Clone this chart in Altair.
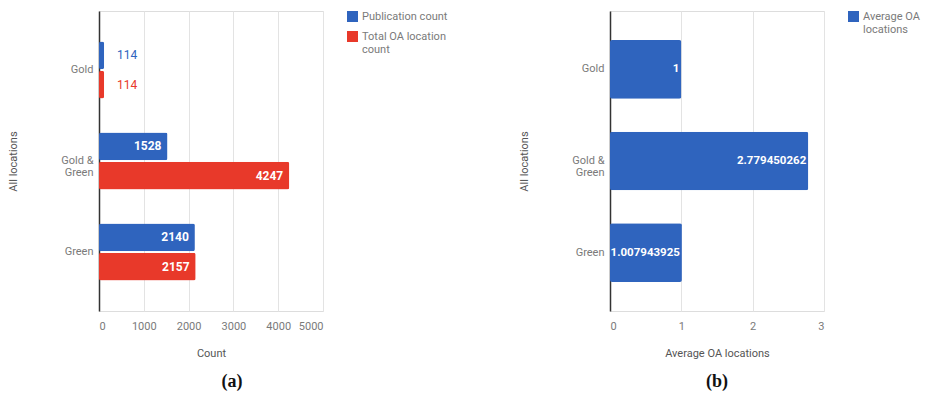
import altair as alt
import pandas as pd

# Categories and values
categories = ["Gold", "Gold & Green", "Green"]
series_names = ["Publication count", "Total OA location count"]
publication_count = [114, 1528, 2140]
total_oa_location_count = [114, 4247, 2157]
average_series = ["Average OA locations"]
average_oa_locations = [1, 2.779450262, 1.007943925]
count_ticks = [0, 1000, 2000, 3000, 4000, 5000]
average_ticks = [0, 1, 2, 3]

BLUE = "#2f64be"
RED = "#e8392a"
LABEL_GRAY = "#7a7a7a"
TITLE_GRAY = "#555555"
GRID = "#e3e3e3"

counts = pd.DataFrame({
    "location": categories * 2,
    "series": [series_names[0]] * 3 + [series_names[1]] * 3,
    "value": publication_count + total_oa_location_count,
})
counts["label"] = counts["value"].map(lambda v: f"{v:g}")

averages = pd.DataFrame({
    "location": categories,
    "series": average_series * 3,
    "value": average_oa_locations,
})
averages["label"] = averages["value"].map(lambda v: f"{v:.10g}")

wrap_labels = "datum.value == 'Gold & Green' ? ['Gold &', 'Green'] : datum.value"
wrap_legend = ("datum.label == 'Total OA location count' ? ['Total OA location', 'count'] : "
               "datum.label == 'Average OA locations' ? ['Average OA', 'locations'] : datum.label")


def y_encoding(pad_inner, pad_outer):
    return alt.Y(
        "location:N", sort=categories, title="All locations",
        scale=alt.Scale(paddingInner=pad_inner, paddingOuter=pad_outer),
        axis=alt.Axis(labelExpr=wrap_labels, labelLineHeight=12, ticks=False,
                      domainColor="#333333", domainWidth=1.5, labelPadding=6,
                      titlePadding=42, labelColor=LABEL_GRAY, labelFontSize=11,
                      titleColor=TITLE_GRAY, titleFontSize=11, titleFontWeight="normal"),
    )


def x_encoding(title, domain, ticks):
    return alt.X(
        "value:Q", title=title,
        scale=alt.Scale(domain=domain, nice=False),
        axis=alt.Axis(values=ticks, format="d", grid=True, gridColor=GRID, domain=False,
                      ticks=False, labelPadding=9, titlePadding=16, labelColor=LABEL_GRAY,
                      labelFontSize=11, titleColor=TITLE_GRAY, titleFontSize=11,
                      titleFontWeight="normal"),
    )


legend = alt.Legend(title=None, orient="right", offset=24, symbolType="square",
                    symbolSize=121, symbolStrokeWidth=0, labelFontSize=11,
                    labelColor=LABEL_GRAY, labelExpr=wrap_legend, rowPadding=8)

# Panel (a): grouped bars of counts
base_a = alt.Chart(counts).encode(
    y=y_encoding(0.374, 0.335),
    yOffset=alt.YOffset("series:N", sort=series_names,
                        scale=alt.Scale(paddingInner=0.05)),
)
bars_a = base_a.mark_bar(cornerRadius=2).encode(
    x=x_encoding("Count", [0, 5000], count_ticks),
    color=alt.Color("series:N", sort=series_names,
                    scale=alt.Scale(domain=series_names, range=[BLUE, RED]),
                    legend=legend),
)
inside_a = base_a.transform_filter("datum.value > 500").mark_text(
    align="right", baseline="middle", dx=-6, color="white", fontWeight="bold", fontSize=12
).encode(x="value:Q", text="label:N")
outside_a = base_a.transform_filter("datum.value <= 500").mark_text(
    align="left", baseline="middle", dx=13, fontSize=12
).encode(
    x="value:Q", text="label:N",
    color=alt.Color("series:N", sort=series_names,
                    scale=alt.Scale(domain=series_names, range=[BLUE, RED]), legend=None),
)
panel_a = alt.layer(bars_a, inside_a, outside_a).properties(
    width=224, height=300,
    title=alt.TitleParams("(a)", orient="bottom", font="Liberation Serif", fontSize=18,
                          fontWeight="bold", color="#111111", offset=15, dx=21),
)

# Panel (b): average number of OA locations
base_b = alt.Chart(averages).encode(y=y_encoding(0.36, 0.317))
bars_b = base_b.mark_bar(cornerRadius=2).encode(
    x=x_encoding("Average OA locations", [0, 3], average_ticks),
    color=alt.Color("series:N", scale=alt.Scale(domain=average_series, range=[BLUE]),
                    legend=legend),
)
text_b = base_b.mark_text(
    align="right", baseline="middle", dx=-2, color="white", fontWeight="bold", fontSize=11.5
).encode(x="value:Q", text="label:N")
panel_b = alt.layer(bars_b, text_b).properties(
    width=214, height=300,
    title=alt.TitleParams("(b)", orient="bottom", font="Liberation Serif", fontSize=18,
                          fontWeight="bold", color="#111111", offset=15),
)

chart = alt.hconcat(panel_a, panel_b, spacing=69).resolve_scale(
    color="independent", x="independent", y="independent"
).properties(
    padding={"left": 7, "top": 10, "right": 0, "bottom": 0},
).configure_view(stroke=None).configure(font="Roboto", background="white")

chart.save("out.html", embed_options={"renderer": "svg", "actions": False})
